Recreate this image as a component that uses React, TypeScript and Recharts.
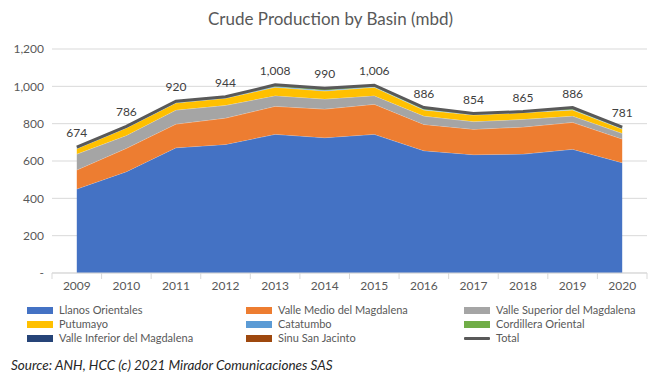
import React from 'react';
import {
  ComposedChart,
  Area,
  Line,
  XAxis,
  YAxis,
  CartesianGrid,
  LabelList,
} from 'recharts';

const years = ['2009', '2010', '2011', '2012', '2013', '2014', '2015', '2016', '2017', '2018', '2019', '2020'];
const llanos = [450, 543, 671, 689, 743, 725, 743, 655, 634, 637, 663, 591];
const vmm = [102, 125, 127, 141, 150, 153, 161, 141, 136, 145, 144, 127];
const vsm = [85, 69, 75, 68, 57, 54, 46, 45, 41, 41, 34, 30];
const putumayo = [29, 40, 38, 38, 45, 43, 45, 32, 35, 36, 32, 23];
const catatumbo = [3, 3, 3, 3, 4, 4, 3, 3, 3, 2, 3, 3];
const cordillera = [3, 4, 4, 3, 6, 7, 5, 7, 3, 2, 7, 5];
const vim = [2, 2, 2, 2, 3, 4, 3, 3, 2, 2, 3, 2];
const sinu = [0, 0, 0, 0, 0, 0, 0, 0, 0, 0, 0, 0];
const total = [674, 786, 920, 944, 1008, 990, 1006, 886, 854, 865, 886, 781];
const yTicks = [0, 200, 400, 600, 800, 1000, 1200];

const series = [
  { key: 'llanos', name: 'Llanos Orientales', color: '#4472C4', values: llanos },
  { key: 'vmm', name: 'Valle Medio del Magdalena', color: '#ED7D31', values: vmm },
  { key: 'vsm', name: 'Valle Superior del Magdalena', color: '#A5A5A5', values: vsm },
  { key: 'putumayo', name: 'Putumayo', color: '#FFC000', values: putumayo },
  { key: 'catatumbo', name: 'Catatumbo', color: '#5B9BD5', values: catatumbo },
  { key: 'cordillera', name: 'Cordillera Oriental', color: '#70AD47', values: cordillera },
  { key: 'vim', name: 'Valle Inferior del Magdalena', color: '#264478', values: vim },
  { key: 'sinu', name: 'Sinu San Jacinto', color: '#9E480E', values: sinu },
];

const data = years.map((year, i) => {
  const row: Record<string, number | string> = { year, total: total[i] };
  series.forEach((s) => {
    row[s.key] = s.values[i];
  });
  return row;
});

const font = 'Lato, "Open Sans", sans-serif';
const BAND = 49.6;

const XTick = (props: any) => {
  const { x, y, payload, index } = props;
  return (
    <g>
      <line x1={x - BAND / 2} x2={x - BAND / 2} y1={y - 8} y2={y - 2} stroke="#d9d9d9" />
      {index === years.length - 1 && (
        <line x1={x + BAND / 2} x2={x + BAND / 2} y1={y - 8} y2={y - 2} stroke="#d9d9d9" />
      )}
      <text x={x} y={y + 9} textAnchor="middle" fill="#595959" fontSize={12} fontFamily={font}>
        {payload.value}
      </text>
    </g>
  );
};

const legendItems = [...series.map((s) => ({ name: s.name, color: s.color, line: false })), { name: 'Total', color: '#595959', line: true }];

export default function App() {
  return (
    <div style={{ position: 'absolute', left: 0, top: 0, width: 661, height: 378, background: '#fff', fontFamily: font }}>
      <div style={{ position: 'absolute', top: 8, width: 661, textAlign: 'center', fontSize: 17, color: '#595959' }}>
        Crude Production by Basin (mbd)
      </div>
      <div style={{ position: 'absolute', left: 0, top: 0 }}>
        <ComposedChart width={661} height={303} data={data} margin={{ top: 49, right: 14, left: 0, bottom: 0 }}>
          <CartesianGrid vertical={false} stroke="#d9d9d9" />
          <XAxis
            dataKey="year"
            padding={{ left: BAND / 2, right: BAND / 2 }}
            axisLine={{ stroke: '#d9d9d9' }}
            tickLine={false}
            tick={<XTick />}
            height={30}
            interval={0}
          />
          <YAxis
            width={52}
            domain={[0, 1200]}
            ticks={yTicks}
            axisLine={false}
            tickLine={false}
            tick={{ fill: '#595959', fontSize: 12, fontFamily: font }}
            tickFormatter={(v: number) => (v === 0 ? '-' : v.toLocaleString('en-US'))}
          />
          {series.map((s) => (
            <Area
              key={s.key}
              type="linear"
              dataKey={s.key}
              name={s.name}
              stackId="a"
              fill={s.color}
              fillOpacity={1}
              stroke="#ffffff"
              strokeOpacity={0.5}
              strokeWidth={0.75}
              isAnimationActive={false}
            />
          ))}
          <Line
            type="linear"
            dataKey="total"
            name="Total"
            stroke="#595959"
            strokeWidth={3}
            dot={false}
            isAnimationActive={false}
          >
            <LabelList
              dataKey="total"
              position="top"
              offset={10}
              fill="#404040"
              fontSize={12}
              fontFamily={font}
              formatter={(v: any) => Number(v).toLocaleString('en-US')}
            />
          </Line>
        </ComposedChart>
      </div>
      <div
        style={{
          position: 'absolute',
          left: 27,
          top: 303,
          width: 634,
          display: 'grid',
          gridTemplateColumns: '219px 218px 197px',
          rowGap: 0,
          fontSize: 11,
          color: '#595959',
          lineHeight: '14px',
        }}
      >
        {legendItems.map((item) => (
          <div key={item.name} style={{ display: 'flex', alignItems: 'center', whiteSpace: 'nowrap' }}>
            <span
              style={{
                display: 'inline-block',
                width: 26,
                height: item.line ? 3 : 7,
                background: item.color,
                marginRight: 6,
                borderRadius: item.line ? 1 : 0,
              }}
            />
            {item.name}
          </div>
        ))}
      </div>
      <div
        style={{
          position: 'absolute',
          left: 11,
          top: 357,
          fontSize: 13.5,
          fontStyle: 'italic',
          color: '#262626',
        }}
      >
        Source: ANH, HCC (c) 2021 Mirador Comunicaciones SAS
      </div>
    </div>
  );
}
